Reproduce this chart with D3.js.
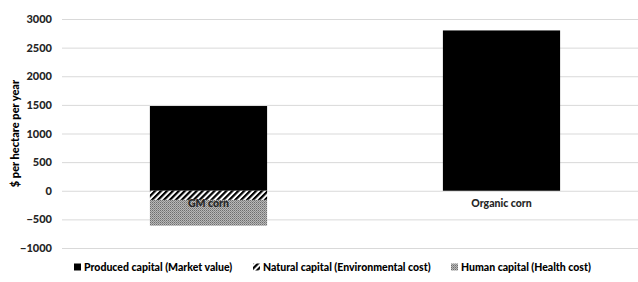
<!DOCTYPE html>
<html>
<head>
<meta charset="utf-8">
<script src="https://cdn.jsdelivr.net/npm/d3@7"></script>
<style>
  body { margin: 0; background: #fff; }
  svg text { font-family: Lato, "Open Sans", sans-serif; font-weight: 900; }
</style>
</head>
<body>
<div id="plot"></div>
<script>
// Data
var categories = ["GM corn", "Organic corn"];
var produced = [1480, 2800];   // Produced capital (Market value)
var natural = [-160, 0];       // Natural capital (Environmental cost)
var human = [-450, 0];         // Human capital (Health cost)
var yTicks = [-1000, -500, 0, 500, 1000, 1500, 2000, 2500, 3000];
var seriesNames = ["Produced capital (Market value)", "Natural capital (Environmental cost)", "Human capital (Health cost)"];

var width = 638, height = 282;

var svg = d3.select("div#plot")
    .append("svg")
    .attr("width", width)
    .attr("height", height);

// Patterns for the two cost series
var defs = svg.append("defs");

var stripes = defs.append("pattern")
    .attr("id", "stripes")
    .attr("patternUnits", "userSpaceOnUse")
    .attr("width", 4.2)
    .attr("height", 4.2)
    .attr("patternTransform", "rotate(45)");
stripes.append("rect").attr("width", 4.2).attr("height", 4.2).attr("fill", "#fff");
stripes.append("rect").attr("width", 2.2).attr("height", 4.2).attr("fill", "#000");

var dots = defs.append("pattern")
    .attr("id", "dots")
    .attr("patternUnits", "userSpaceOnUse")
    .attr("width", 2)
    .attr("height", 2);
dots.append("rect").attr("width", 2).attr("height", 2).attr("fill", "#b8b8b8");
dots.append("rect").attr("width", 1).attr("height", 1).attr("fill", "#6e6e6e");
dots.append("rect").attr("x", 1).attr("y", 1).attr("width", 1).attr("height", 1).attr("fill", "#8c8c8c");

// Scales
var xScale = d3.scaleBand()
    .domain(categories)
    .range([62, 648])
    .paddingInner(0.6)
    .paddingOuter(0.3);

var yScale = d3.scaleLinear()
    .domain([-1000, 3000])
    .range([248, 19]);

// Gridlines
svg.append("g")
    .selectAll("line")
    .data(yTicks)
    .enter().append("line")
    .attr("x1", 62)
    .attr("x2", width)
    .attr("y1", function (d) { return yScale(d) + 0.5; })
    .attr("y2", function (d) { return yScale(d) + 0.5; })
    .attr("stroke", "#d9d9d9")
    .attr("stroke-width", 1);

// Y axis labels
var yAxis = d3.axisLeft(yScale).tickValues(yTicks).tickFormat(d3.format("d")).tickSize(0).tickPadding(0);
svg.append("g")
    .attr("transform", "translate(52,0)")
    .call(yAxis)
    .call(function (g) { g.select(".domain").remove(); })
    .selectAll("text")
    .style("font-family", "Lato, 'Open Sans', sans-serif")
    .style("font-weight", "900")
    .style("font-size", "11px")
    .attr("fill", "#262626");

// Y axis title
svg.append("text")
    .attr("transform", "rotate(-90)")
    .attr("x", -yScale(1000))
    .attr("y", 19)
    .style("text-anchor", "middle")
    .style("font-size", "11px")
    .attr("fill", "#000")
    .text("$ per hectare per year");

// Bars: produced goes up from 0, natural then human stack downward
var stacked = categories.map(function (c, i) {
    return [
        { cat: c, y0: 0, y1: produced[i], fill: "#000" },
        { cat: c, y0: 0, y1: natural[i], fill: "url(#stripes)" },
        { cat: c, y0: natural[i], y1: natural[i] + human[i], fill: "url(#dots)" }
    ];
});
var rects = [].concat.apply([], stacked).filter(function (d) { return d.y0 !== d.y1; });

svg.append("g")
    .selectAll("rect")
    .data(rects)
    .enter().append("rect")
    .attr("x", function (d) { return xScale(d.cat); })
    .attr("width", xScale.bandwidth())
    .attr("y", function (d) { return yScale(Math.max(d.y0, d.y1)); })
    .attr("height", function (d) { return Math.abs(yScale(d.y0) - yScale(d.y1)); })
    .attr("fill", function (d) { return d.fill; });

// Category labels next to the zero line
var xAxis = d3.axisBottom(xScale).tickSize(0).tickPadding(9);
svg.append("g")
    .attr("transform", "translate(0," + yScale(0) + ")")
    .call(xAxis)
    .call(function (g) { g.select(".domain").remove(); })
    .selectAll("text")
    .style("font-family", "Lato, 'Open Sans', sans-serif")
    .style("font-weight", "900")
    .style("font-size", "10.5px")
    .attr("fill", "#262626");

// Legend
var legendX = [74, 253, 451];
var legendFill = ["#000", "url(#stripes)", "url(#dots)"];
var legend = svg.append("g")
    .selectAll("g")
    .data(seriesNames)
    .enter().append("g")
    .attr("transform", function (d, i) { return "translate(" + legendX[i] + ",267)"; });

legend.append("rect")
    .attr("x", 0)
    .attr("y", -3.5)
    .attr("width", 7)
    .attr("height", 7)
    .attr("fill", function (d, i) { return legendFill[i]; });

legend.append("text")
    .attr("x", 10)
    .attr("dy", "0.35em")
    .style("font-size", "10.5px")
    .attr("fill", "#000")
    .text(function (d) { return d; });
</script>
</body>
</html>
